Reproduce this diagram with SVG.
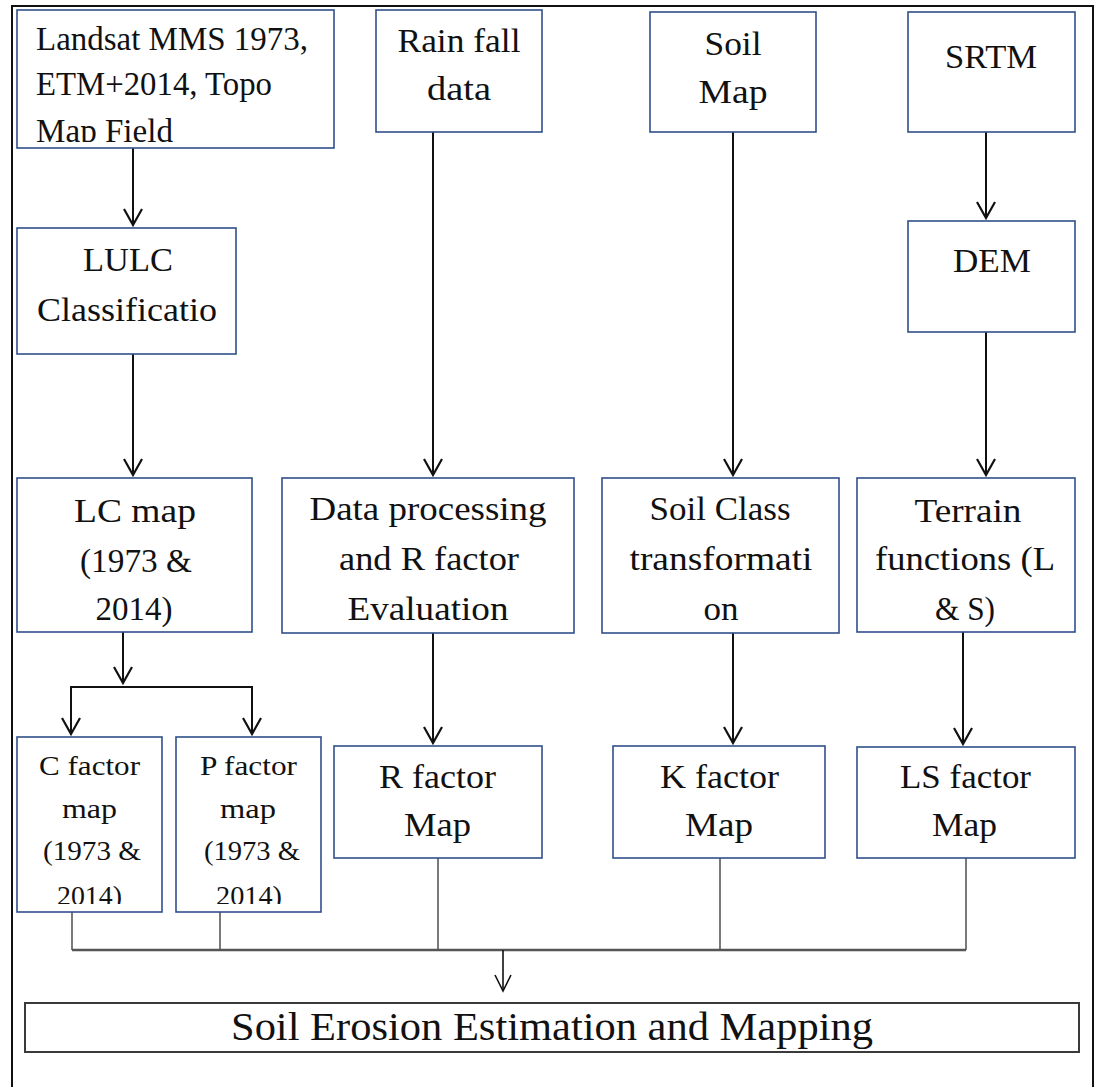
<svg xmlns="http://www.w3.org/2000/svg" width="1096" height="1087" viewBox="0 0 1096 1087">
<style>
  .box { fill: #ffffff; stroke: #2f4f8a; stroke-width: 1.6; }
  .t { font-family: 'Liberation Serif', 'DejaVu Serif', serif; font-size: 33px; fill: #111111; text-anchor: middle; }
  .tl { text-anchor: start; }
  .s { font-size: 28px; }
  .big { font-size: 41px; }
  .arr { fill: none; stroke: #111111; stroke-width: 2; marker-end: url(#ah); }
  .ln { fill: none; stroke: #111111; stroke-width: 2; }
  .thin { fill: none; stroke: #222222; stroke-width: 1.2; }
</style>
<defs>
  <marker id="ah" markerUnits="userSpaceOnUse" markerWidth="20" markerHeight="20" refX="0" refY="0" orient="auto" overflow="visible">
    <path d="M-16,-9 L0,0 L-16,9" fill="none" stroke="#111111" stroke-width="2.2"/>
  </marker>
  <marker id="ah2" markerUnits="userSpaceOnUse" markerWidth="20" markerHeight="20" refX="0" refY="0" orient="auto" overflow="visible">
    <path d="M-16,-8 L0,0 L-16,8" fill="none" stroke="#111111" stroke-width="1.6"/>
  </marker>
  <clipPath id="clipLandsat"><rect x="17" y="10" width="317" height="132"/></clipPath>
  <clipPath id="clipC"><rect x="17" y="737" width="145" height="167"/></clipPath>
  <clipPath id="clipP"><rect x="176" y="737" width="145" height="167"/></clipPath>
</defs>

<path id="frame" d="M12,1087 V6 H1093 V1087" fill="none" stroke="#111111" stroke-width="2"/>

<g id="connectors">
  <path class="arr" d="M133,148 V225"/>
  <path class="arr" d="M133,354 V475"/>
  <path class="arr" d="M123,632 V683"/>
  <path class="ln" d="M71,687 H252"/>
  <path class="arr" d="M71,686 V734"/>
  <path class="arr" d="M252,686 V734"/>
  <path class="arr" d="M433,132 V475"/>
  <path class="arr" d="M733,132 V475"/>
  <path class="arr" d="M986,132 V218"/>
  <path class="arr" d="M986,332 V475"/>
  <path class="arr" d="M433,633 V743"/>
  <path class="arr" d="M733,633 V743"/>
  <path class="arr" d="M963,632 V744"/>
  <path class="thin" d="M72,912 V950 M220,912 V950 M438,858 V950 M720,858 V950 M966,858 V950"/>
  <path d="M72,950 H966" fill="none" stroke="#555555" stroke-width="2.5"/>
  <path d="M503,950 V991" fill="none" stroke="#111111" stroke-width="1.6" marker-end="url(#ah2)"/>
</g>

<g id="landsat">
  <rect class="box" x="17" y="10" width="317" height="138"/>
  <g clip-path="url(#clipLandsat)">
    <text class="t tl" x="36" y="50" textLength="272" lengthAdjust="spacingAndGlyphs">Landsat MMS 1973,</text>
    <text class="t tl" x="36" y="95" textLength="236" lengthAdjust="spacingAndGlyphs">ETM+2014, Topo</text>
    <text class="t tl" x="36" y="142" textLength="137" lengthAdjust="spacingAndGlyphs">Map Field</text>
  </g>
</g>

<g id="rainfall">
  <rect class="box" x="376" y="10" width="166" height="122"/>
  <text class="t" x="459" y="52" textLength="123" lengthAdjust="spacingAndGlyphs">Rain fall</text>
  <text class="t" x="459" y="100" textLength="64" lengthAdjust="spacingAndGlyphs">data</text>
</g>

<g id="soilmap">
  <rect class="box" x="650" y="12" width="166" height="120"/>
  <text class="t" x="733" y="55" textLength="57" lengthAdjust="spacingAndGlyphs">Soil</text>
  <text class="t" x="733" y="103" textLength="69" lengthAdjust="spacingAndGlyphs">Map</text>
</g>

<g id="srtm">
  <rect class="box" x="908" y="12" width="167" height="120"/>
  <text class="t" x="991" y="68" textLength="92" lengthAdjust="spacingAndGlyphs">SRTM</text>
</g>

<g id="lulc">
  <rect class="box" x="17" y="228" width="219" height="126"/>
  <text class="t" x="128" y="271" textLength="90" lengthAdjust="spacingAndGlyphs">LULC</text>
  <text class="t" x="127" y="321" textLength="180" lengthAdjust="spacingAndGlyphs">Classificatio</text>
</g>

<g id="dem">
  <rect class="box" x="908" y="221" width="167" height="111"/>
  <text class="t" x="992" y="272" textLength="78" lengthAdjust="spacingAndGlyphs">DEM</text>
</g>

<g id="lcmap">
  <rect class="box" x="17" y="478" width="235" height="154"/>
  <text class="t" x="135" y="522" textLength="122" lengthAdjust="spacingAndGlyphs">LC map</text>
  <text class="t" x="136" y="572" textLength="112" lengthAdjust="spacingAndGlyphs">(1973 &amp;</text>
  <text class="t" x="134" y="620" textLength="77" lengthAdjust="spacingAndGlyphs">2014)</text>
</g>

<g id="dataprocessing">
  <rect class="box" x="282" y="478" width="292" height="155"/>
  <text class="t" x="428" y="520" textLength="237" lengthAdjust="spacingAndGlyphs">Data processing</text>
  <text class="t" x="429" y="570" textLength="180" lengthAdjust="spacingAndGlyphs">and R factor</text>
  <text class="t" x="428" y="620" textLength="161" lengthAdjust="spacingAndGlyphs">Evaluation</text>
</g>

<g id="soilclass">
  <rect class="box" x="602" y="478" width="237" height="155"/>
  <text class="t" x="720" y="520" textLength="141" lengthAdjust="spacingAndGlyphs">Soil Class</text>
  <text class="t" x="721" y="570" textLength="183" lengthAdjust="spacingAndGlyphs">transformati</text>
  <text class="t" x="721" y="620" textLength="35" lengthAdjust="spacingAndGlyphs">on</text>
</g>

<g id="terrain">
  <rect class="box" x="857" y="478" width="218" height="154"/>
  <text class="t" x="968" y="522" textLength="107" lengthAdjust="spacingAndGlyphs">Terrain</text>
  <text class="t" x="965" y="570" textLength="180" lengthAdjust="spacingAndGlyphs">functions (L</text>
  <text class="t" x="965" y="620" textLength="60" lengthAdjust="spacingAndGlyphs">&amp; S)</text>
</g>

<g id="cfactor">
  <rect class="box" x="17" y="737" width="145" height="175"/>
  <g clip-path="url(#clipC)">
    <text class="t s" x="89.5" y="775" textLength="101" lengthAdjust="spacingAndGlyphs">C factor</text>
    <text class="t s" x="89.5" y="818" textLength="55" lengthAdjust="spacingAndGlyphs">map</text>
    <text class="t s" x="92" y="860" textLength="98" lengthAdjust="spacingAndGlyphs">(1973 &amp;</text>
    <text class="t s" x="89.5" y="905" textLength="65" lengthAdjust="spacingAndGlyphs">2014)</text>
  </g>
</g>

<g id="pfactor">
  <rect class="box" x="176" y="737" width="145" height="175"/>
  <g clip-path="url(#clipP)">
    <text class="t s" x="248.5" y="775" textLength="97" lengthAdjust="spacingAndGlyphs">P factor</text>
    <text class="t s" x="248" y="818" textLength="56" lengthAdjust="spacingAndGlyphs">map</text>
    <text class="t s" x="252" y="860" textLength="96" lengthAdjust="spacingAndGlyphs">(1973 &amp;</text>
    <text class="t s" x="249" y="905" textLength="66" lengthAdjust="spacingAndGlyphs">2014)</text>
  </g>
</g>

<g id="rfactor">
  <rect class="box" x="334" y="746" width="208" height="112"/>
  <text class="t" x="437.5" y="788" textLength="117" lengthAdjust="spacingAndGlyphs">R factor</text>
  <text class="t" x="437.5" y="836" textLength="67" lengthAdjust="spacingAndGlyphs">Map</text>
</g>

<g id="kfactor">
  <rect class="box" x="613" y="746" width="212" height="112"/>
  <text class="t" x="719.5" y="788" textLength="119" lengthAdjust="spacingAndGlyphs">K factor</text>
  <text class="t" x="719" y="836" textLength="68" lengthAdjust="spacingAndGlyphs">Map</text>
</g>

<g id="lsfactor">
  <rect class="box" x="857" y="747" width="218" height="111"/>
  <text class="t" x="965.5" y="788" textLength="131" lengthAdjust="spacingAndGlyphs">LS factor</text>
  <text class="t" x="964.5" y="836" textLength="65" lengthAdjust="spacingAndGlyphs">Map</text>
</g>

<g id="soilerosion">
  <rect x="25" y="1003" width="1054" height="49" fill="#ffffff" stroke="#3a3a3a" stroke-width="2"/>
  <text class="t big" x="552" y="1040" textLength="642" lengthAdjust="spacingAndGlyphs">Soil Erosion Estimation and Mapping</text>
</g>
</svg>
